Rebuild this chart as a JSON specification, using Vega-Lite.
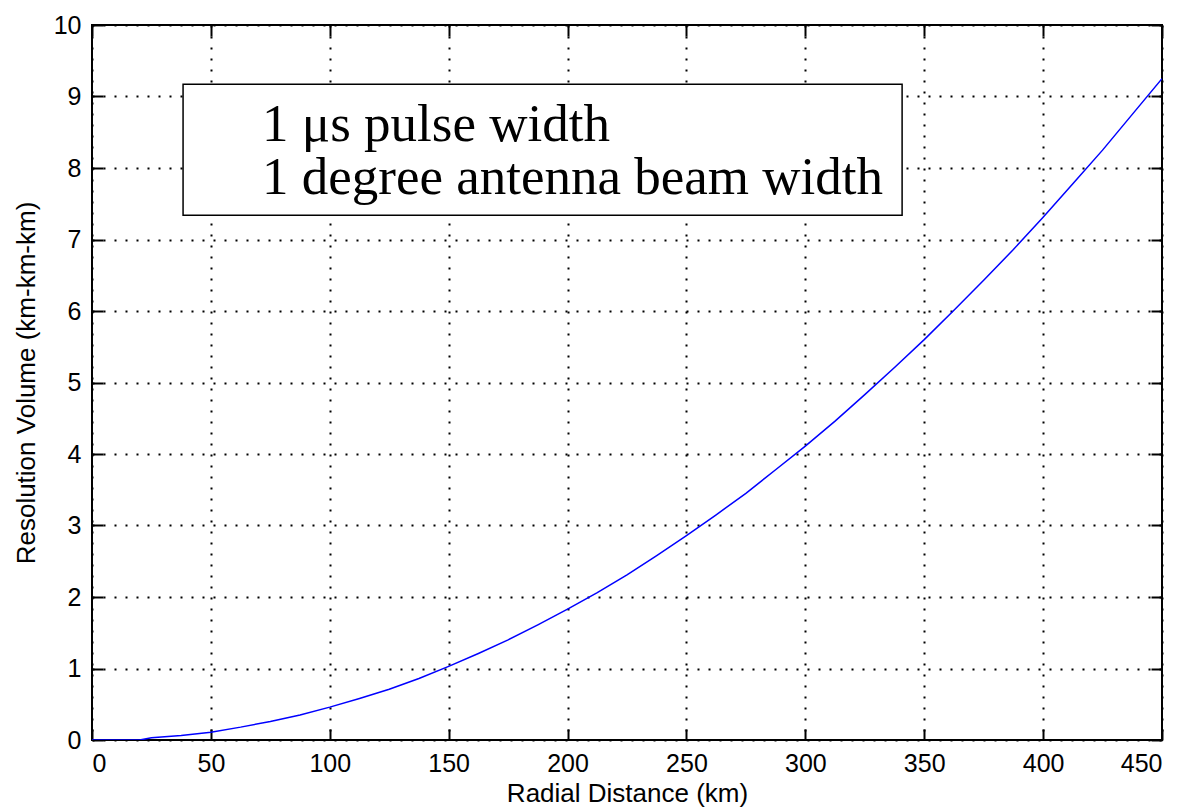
{
  "$schema": "https://vega.github.io/schema/vega-lite/v6.json",
  "width": 1070,
  "height": 715,
  "autosize": {"type": "none"},
  "padding": {"left": 92, "top": 25, "right": 26, "bottom": 68},
  "background": "white",
  "config": {
    "view": {"stroke": "black", "strokeWidth": 2},
    "axis": {
      "labelFont": "Liberation Sans",
      "titleFont": "Liberation Sans",
      "labelFontSize": 25,
      "titleFontSize": 26,
      "labelColor": "black",
      "titleColor": "black",
      "titleFontWeight": "normal",
      "domain": false,
      "tickColor": "black",
      "tickWidth": 2,
      "tickSize": -11,
      "gridColor": "black",
      "gridDash": [2, 9],
      "gridWidth": 2,
      "gridOpacity": 1
    }
  },
  "datasets": {
    "curve": [
      {"r": 0, "v": 0},
      {"r": 20, "v": 0.0},
      {"r": 25, "v": 0.03},
      {"r": 37.5, "v": 0.064},
      {"r": 50, "v": 0.11},
      {"r": 62.5, "v": 0.18},
      {"r": 75, "v": 0.26},
      {"r": 87.5, "v": 0.35},
      {"r": 100, "v": 0.46},
      {"r": 112.5, "v": 0.58},
      {"r": 125, "v": 0.71},
      {"r": 137.5, "v": 0.86},
      {"r": 150, "v": 1.03},
      {"r": 162.5, "v": 1.21},
      {"r": 175, "v": 1.4},
      {"r": 187.5, "v": 1.61},
      {"r": 200, "v": 1.83},
      {"r": 212.5, "v": 2.06},
      {"r": 225, "v": 2.31},
      {"r": 237.5, "v": 2.58},
      {"r": 250, "v": 2.86},
      {"r": 262.5, "v": 3.15},
      {"r": 275, "v": 3.45},
      {"r": 287.5, "v": 3.78},
      {"r": 300, "v": 4.11},
      {"r": 312.5, "v": 4.46},
      {"r": 325, "v": 4.83},
      {"r": 337.5, "v": 5.21},
      {"r": 350, "v": 5.6},
      {"r": 362.5, "v": 6.01},
      {"r": 375, "v": 6.43},
      {"r": 387.5, "v": 6.86},
      {"r": 400, "v": 7.31},
      {"r": 412.5, "v": 7.78},
      {"r": 425, "v": 8.25},
      {"r": 437.5, "v": 8.75},
      {"r": 450, "v": 9.25}
    ],
    "note": [
      {"line1": "1 μs pulse width", "line2": "1 degree antenna beam width"}
    ]
  },
  "layer": [
    {
      "data": {"name": "curve"},
      "mark": {"type": "line", "color": "#0000ff", "strokeWidth": 1.5, "clip": true},
      "encoding": {
        "x": {
          "field": "r", "type": "quantitative",
          "scale": {"domain": [0, 450], "nice": false},
          "axis": {"orient": "bottom", "values": [0,50,100,150,200,250,300,350,400,450], "title": "Radial Distance (km)", "labelPadding": 22, "titlePadding": 4, "grid": true}
        },
        "y": {
          "field": "v", "type": "quantitative",
          "scale": {"domain": [0, 10], "nice": false},
          "axis": {"orient": "left", "values": [0,1,2,3,4,5,6,7,8,9,10], "title": "Resolution Volume (km-km-km)", "labelPadding": 22, "titlePadding": 14, "grid": true}
        }
      }
    },
    {
      "data": {"name": "note"},
      "mark": {"type": "rect", "fill": "white", "stroke": "black", "strokeWidth": 1.5},
      "encoding": {
        "x": {"datum": 38.3, "type": "quantitative", "scale": {"domain": [0, 450], "nice": false},
          "axis": {"orient": "top", "values": [0,50,100,150,200,250,300,350,400,450], "labels": false, "title": null, "grid": false}},
        "x2": {"datum": 340.7},
        "y": {"datum": 9.17, "type": "quantitative", "scale": {"domain": [0, 10], "nice": false},
          "axis": {"orient": "right", "values": [0,1,2,3,4,5,6,7,8,9,10], "labels": false, "title": null, "grid": false}},
        "y2": {"datum": 7.34}
      }
    },
    {
      "data": {"name": "note"},
      "mark": {"type": "text", "font": "Liberation Serif", "fontSize": 53, "align": "left", "baseline": "alphabetic", "color": "black"},
      "encoding": {
        "x": {"datum": 71.5, "type": "quantitative", "scale": {"domain": [0, 450], "nice": false}, "axis": null},
        "y": {"datum": 8.38, "type": "quantitative", "scale": {"domain": [0, 10], "nice": false}, "axis": null},
        "text": {"field": "line1"}
      }
    },
    {
      "data": {"name": "note"},
      "mark": {"type": "text", "font": "Liberation Serif", "fontSize": 53, "align": "left", "baseline": "alphabetic", "color": "black"},
      "encoding": {
        "x": {"datum": 71.5, "type": "quantitative", "scale": {"domain": [0, 450], "nice": false}, "axis": null},
        "y": {"datum": 7.63, "type": "quantitative", "scale": {"domain": [0, 10], "nice": false}, "axis": null},
        "text": {"field": "line2"}
      }
    }
  ],
  "resolve": {"axis": {"x": "independent", "y": "independent"}}
}
